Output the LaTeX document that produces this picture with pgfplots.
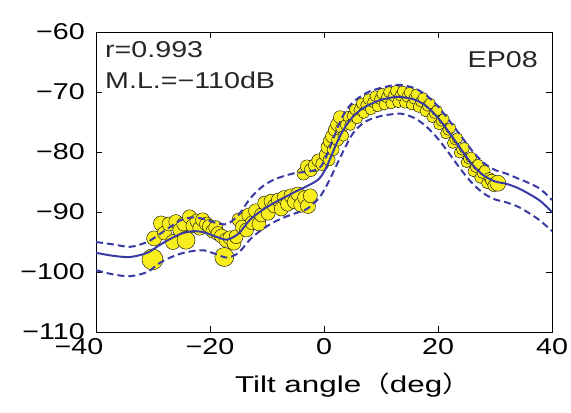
\documentclass[border=0pt]{standalone}
\usepackage{fontspec}
\setmainfont{Liberation Sans}[FakeStretch=1.25]
\newfontfamily\lbl{Liberation Sans}[FakeStretch=1.37]
\newfontfamily\jp{Noto Sans CJK JP}[FakeStretch=1.25]
\usepackage{pgfplots}
\pgfplotsset{compat=1.18}
\usepackage{pgfplotstable}

\definecolor{fitblue}{RGB}{58,58,165}
\definecolor{ptyellow}{RGB}{248,238,30}

% fitted curve and its +/- band
\pgfplotstableread{
x    mid    up     lo
-40 -96.8 -95.0 -99.7
-37 -97.3 -95.4 -100.4
-34 -97.5 -95.8 -100.7
-31 -96.8 -95.0 -100.0
-29 -95.6 -93.8 -98.6
-27 -94.5 -92.5 -97.6
-25 -93.6 -91.3 -96.9
-23 -93.2 -90.9 -96.5
-21 -93.4 -91.2 -96.4
-19 -94.1 -91.8 -97.0
-17 -94.6 -92.0 -97.6
-15 -93.6 -90.5 -96.8
-13 -91.3 -87.8 -94.6
-11 -89.8 -85.9 -93.0
-9  -88.6 -84.7 -91.8
-7  -87.6 -84.0 -90.9
-5  -86.6 -83.5 -90.2
-3  -85.7 -83.3 -89.5
-1  -84.6 -82.8 -87.8
0   -83.3 -81.6 -86.4
1   -81.3 -79.3 -84.6
2   -79.0 -76.9 -82.6
3   -77.0 -74.6 -80.6
4   -75.4 -72.9 -78.7
5   -74.2 -71.8 -77.0
6   -73.3 -71.0 -75.9
7   -72.6 -70.4 -75.1
8   -72.1 -69.9 -74.6
10  -71.3 -69.3 -74.0
12  -70.9 -68.9 -73.7
13  -70.8 -68.8 -73.6
14  -70.9 -68.9 -73.7
16  -71.3 -69.4 -74.4
18  -72.4 -70.6 -75.8
20  -74.3 -72.4 -77.8
22  -76.8 -74.8 -80.3
24  -79.5 -77.3 -82.9
26  -82.1 -79.8 -85.2
28  -83.9 -81.8 -86.9
30  -84.9 -83.0 -87.9
32  -85.3 -83.6 -88.4
34  -86.0 -84.4 -89.1
36  -87.0 -85.2 -90.2
38  -88.2 -86.2 -91.5
40  -90.0 -88.0 -93.2
}\fitdata

% measured points, r = marker radius
\pgfplotstableread{
x     y      r
-30.1 -97.9 10.5
-29.8 -94.4 7.5
-28.6 -91.9 7.5
-28.0 -93.5 7
-27.2 -92.0 7
-26.5 -95.0 7.5
-26.0 -91.6 7
-25.3 -93.0 7
-24.6 -92.0 7
-24.2 -94.7 9
-23.6 -90.8 7
-23.0 -92.3 7
-22.3 -91.5 7
-21.8 -92.7 7
-21.3 -91.3 7
-20.6 -92.0 7
-20.1 -92.4 7
-19.5 -93.2 7
-19.0 -92.6 7
-18.6 -93.6 7
-18.0 -94.0 7
-17.5 -97.5 9.5
-17.2 -94.7 7
-16.5 -94.3 7
-15.8 -95.2 7
-15.4 -94.1 7
-14.9 -91.3 7
-14.3 -92.5 7
-13.6 -93.0 7
-13.2 -90.5 7
-12.6 -91.8 7
-12.0 -89.8 7
-11.4 -92.0 7
-11.0 -90.5 7
-10.4 -88.5 7
-9.8  -90.2 7
-9.3  -88.2 7
-8.7  -89.0 7
-8.0  -88.0 7
-7.5  -89.5 7
-7.0  -87.6 7
-6.4  -88.7 7
-5.8  -87.3 7
-5.2  -88.3 7
-4.6  -87.0 7
-4.0  -88.8 7.5
-3.4  -87.6 7
-2.8  -89.0 7.5
-2.4  -87.3 7
-3.6  -83.6 6.5
-3.0  -82.4 6.5
-2.3  -83.0 6.5
-1.6  -82.2 6.5
-1.0  -81.4 6.5
-0.3  -82.0 6.5
0.3   -80.5 6.5
0.6   -79.2 6.5
0.9   -81.3 6
1.0   -78.2 6.5
1.4   -77.4 6.5
1.6   -79.6 6
1.9   -76.3 6.5
2.3   -75.4 6.5
2.4   -78.0 6
2.8   -74.2 6.5
3.0   -76.0 5.5
3.4   -77.3 5.5
3.8   -75.5 5.5
4.2   -74.1 5.5
4.6   -75.5 5.5
5.0   -74.0 5.5
5.4   -72.9 5.5
5.8   -74.4 5.5
6.2   -73.0 5.5
6.6   -71.9 5.5
7.0   -73.5 5.5
7.4   -72.2 5.5
7.8   -71.2 5.5
8.2   -72.9 5.5
8.6   -71.7 5.5
9.0   -70.7 5.5
9.4   -72.4 5.5
9.8   -71.2 5.5
10.2  -70.3 5.5
10.6  -72.1 5.5
11.0  -70.9 5.5
11.4  -70.0 5.5
11.8  -71.9 5.5
12.2  -70.7 5.5
12.6  -69.8 5.5
13.0  -71.7 5.5
13.4  -70.6 5.5
13.8  -69.9 5.5
14.2  -71.8 5.5
14.6  -70.8 5.5
15.0  -70.1 5.5
15.4  -72.1 5.5
15.8  -71.1 5.5
16.2  -70.4 5.5
16.6  -72.5 5.5
17.0  -71.6 5.5
17.4  -71.0 5.5
17.8  -73.2 5.5
18.2  -72.3 5.5
18.6  -71.9 5.5
19.0  -74.2 5.5
19.4  -73.5 5.5
19.8  -73.1 5.5
20.2  -75.4 5.5
20.6  -74.8 5.5
21.0  -74.5 5.5
21.4  -76.9 5.5
21.8  -76.3 5.5
22.2  -76.0 5.5
22.6  -78.5 5.5
23.0  -77.9 5.5
23.4  -77.7 5.5
23.8  -80.1 5.5
24.2  -79.6 5.5
24.6  -79.3 5.5
25.0  -81.7 5.5
25.4  -81.1 5.5
25.8  -80.9 5.5
26.2  -83.2 5.5
26.6  -82.5 5.5
27.0  -82.1 5.5
27.4  -84.3 5.5
27.8  -83.5 5.5
28.2  -83.1 5.5
28.6  -85.2 5.5
29.0  -84.3 5.5
29.4  -84.7 6
29.8  -85.6 6
30.5  -85.2 8
}\ptdata

\begin{document}
\begin{tikzpicture}
\begin{axis}[
  set layers=standard,
  scale only axis,
  width=456bp, height=300bp,
  xmin=-40, xmax=40, ymin=-110, ymax=-60,
  xtick={-20,0,20,40},
  xticklabels={−20,0,20,40},
  extra x ticks={-40},
  extra x tick labels={−40},
  extra x tick style={xticklabel style={xshift=-17bp}},
  ytick={-110,-100,-90,-80,-70,-60},
  yticklabels={−110,−100,−90,−80,−70,−60},
  tick align=inside,
  major tick length=6bp,
  every tick/.style={black, line width=0.8bp},
  axis line style={black, line width=0.9bp},
  ticklabel style={font=\fontsize{23}{26}\selectfont, inner sep=0pt},
  xticklabel style={anchor=north, yshift=-6bp},
  yticklabel style={anchor=east, xshift=-11bp},
  /pgf/number format/assume math mode=true,
  xlabel={\lbl Tilt angle{\jp （}deg{\jp ）}},
  xlabel style={font=\fontsize{23}{26}\selectfont, inner sep=0pt,
    at={(axis description cs:0.5,0)}, anchor=north, yshift=-41bp, xshift=29bp},
  clip=true,
]
\addplot[scatter, only marks, mark=*,
  scatter/use mapped color={draw=black, fill=ptyellow},
  visualization depends on={\thisrow{r} \as \perpointmarksize},
  scatter/@pre marker code/.append style={/tikz/mark size=\perpointmarksize bp, /tikz/line width=0.5bp}]
  table[x=x, y=y] {\ptdata};
\addplot[fitblue, line width=2bp, smooth, dash pattern=on 7bp off 4bp, on layer=axis foreground] table[x=x, y=up] {\fitdata};
\addplot[fitblue, line width=2bp, smooth, dash pattern=on 7bp off 4bp, on layer=axis foreground] table[x=x, y=lo] {\fitdata};
\addplot[fitblue, line width=2bp, smooth, on layer=axis foreground] table[x=x, y=mid] {\fitdata};
\node[anchor=north west, inner sep=0pt, xshift=9bp, yshift=-9.5bp, text=black!85,
  font=\fontsize{23}{26}\selectfont] at (rel axis cs:0,1) {r=0.993};
\node[anchor=north west, inner sep=0pt, xshift=9bp, yshift=-39.5bp, text=black!85,
  font=\fontsize{23}{26}\selectfont] at (rel axis cs:0,1) {M.L.=−110dB};
\node[anchor=north east, inner sep=0pt, xshift=-14bp, yshift=-19.5bp, text=black!85,
  font=\fontsize{23}{26}\selectfont] at (rel axis cs:1,1) {EP08};
\end{axis}
\path ([shift={(-96bp,-80bp)}]current axis.south west) rectangle ([shift={(19bp,32bp)}]current axis.north east);
\end{tikzpicture}
\end{document}
